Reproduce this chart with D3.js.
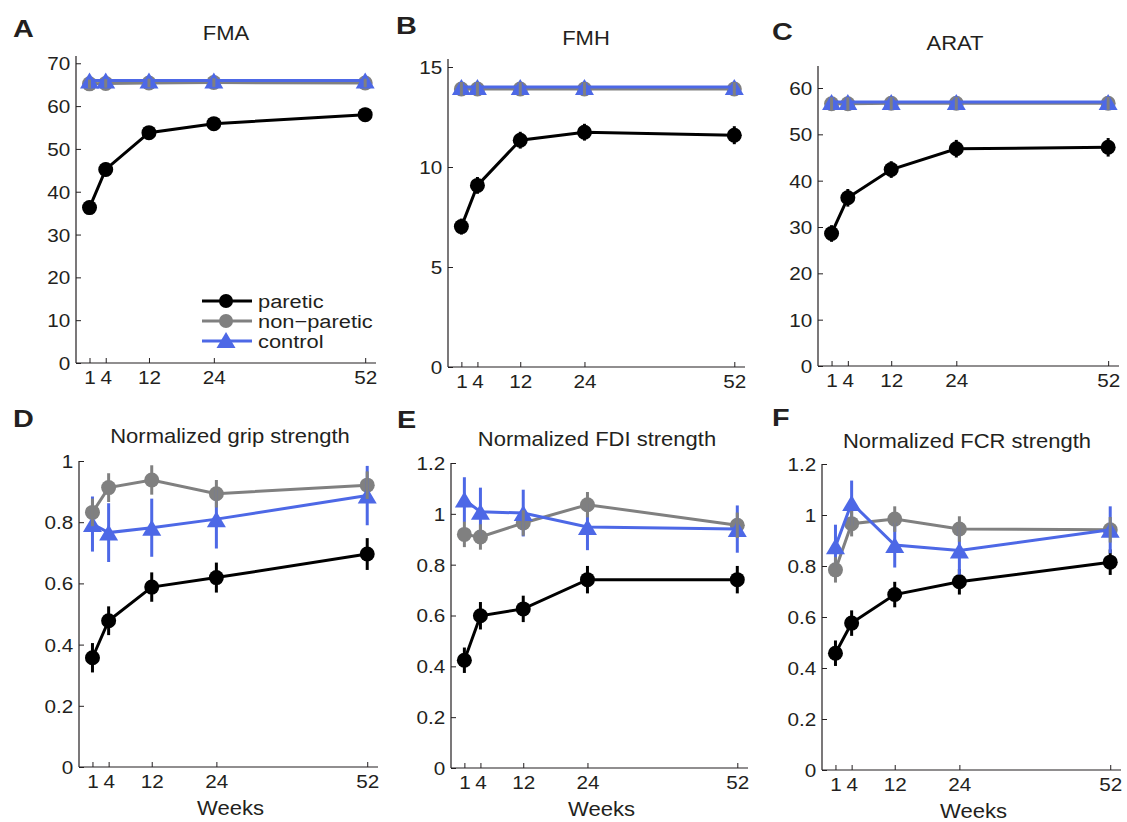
<!DOCTYPE html>
<html>
<head>
<meta charset="utf-8">
<script src="https://cdn.jsdelivr.net/npm/d3@7"></script>
<style>
  body { margin: 0; background: #fff; }
  text { font-family: "Liberation Sans", Arial, Helvetica, sans-serif; fill: #231f20; }
</style>
</head>
<body>
<svg id="fig" width="1127" height="822"></svg>
<script>
// weeks after stroke
const weeks = [1, 4, 12, 24, 52];
const weekTicks = [1, 4, 12, 24, 52];

// A - FMA
const fmaParetic = [36.3, 45.2, 53.8, 55.9, 58.0];
const fmaPareticErr = [1.6, 1.6, 1.5, 1.5, 1.6];
const fmaNonParetic = [65.2, 65.3, 65.4, 65.5, 65.4];
const fmaNonPareticErr = [1.0, 1.0, 1.0, 1.0, 1.0];
const fmaControl = [66, 66, 66, 66, 66];
const fmaTicks = [0, 10, 20, 30, 40, 50, 60, 70];

// B - FMH
const fmhParetic = [7.02, 9.08, 11.34, 11.74, 11.59];
const fmhPareticErr = [0.4, 0.42, 0.42, 0.42, 0.45];
const fmhNonParetic = [13.9, 13.9, 13.9, 13.9, 13.9];
const fmhNonPareticErr = [0.35, 0.35, 0.35, 0.35, 0.35];
const fmhControl = [14, 14, 14, 14, 14];
const fmhTicks = [0, 5, 10, 15];

// C - ARAT
const aratParetic = [28.6, 36.3, 42.4, 46.9, 47.2];
const aratPareticErr = [1.8, 1.9, 1.8, 1.9, 2.0];
const aratNonParetic = [56.6, 56.6, 56.7, 56.7, 56.7];
const aratNonPareticErr = [1.4, 1.4, 1.4, 1.4, 1.4];
const aratControl = [57, 57, 57, 57, 57];
const aratTicks = [0, 10, 20, 30, 40, 50, 60];

// D - grip
const gripParetic = [0.357, 0.478, 0.588, 0.619, 0.696];
const gripPareticErr = [0.048, 0.047, 0.048, 0.049, 0.052];
const gripNonParetic = [0.832, 0.913, 0.938, 0.893, 0.921];
const gripNonPareticErr = [0.045, 0.047, 0.048, 0.045, 0.045];
const gripControl = [0.794, 0.766, 0.782, 0.810, 0.887];
const gripControlErr = [0.09, 0.096, 0.095, 0.096, 0.097];
const gripTicks = [0, 0.2, 0.4, 0.6, 0.8, 1];

// E - FDI
const fdiParetic = [0.424, 0.599, 0.626, 0.741, 0.741];
const fdiPareticErr = [0.05, 0.054, 0.052, 0.054, 0.054];
const fdiNonParetic = [0.919, 0.909, 0.964, 1.036, 0.955];
const fdiNonPareticErr = [0.05, 0.05, 0.05, 0.05, 0.05];
const fdiControl = [1.056, 1.008, 1.003, 0.948, 0.940];
const fdiControlErr = [0.088, 0.095, 0.092, 0.091, 0.093];
const strengthTicks = [0, 0.2, 0.4, 0.6, 0.8, 1, 1.2];

// F - FCR
const fcrParetic = [0.458, 0.576, 0.688, 0.738, 0.815];
const fcrPareticErr = [0.05, 0.05, 0.05, 0.05, 0.05];
const fcrNonParetic = [0.785, 0.966, 0.984, 0.945, 0.942];
const fcrNonPareticErr = [0.05, 0.05, 0.05, 0.05, 0.05];
const fcrControl = [0.877, 1.047, 0.882, 0.861, 0.942];
const fcrControlErr = [0.085, 0.088, 0.088, 0.095, 0.092];

const seriesNames = ['paretic', 'non\u2212paretic', 'control'];
const colors = { paretic: '#000000', nonParetic: '#808080', control: '#4d68e6' };

const panels = [
  { letter: 'A', title: 'FMA', paretic: fmaParetic, pErr: fmaPareticErr, nonParetic: fmaNonParetic, nErr: fmaNonPareticErr, control: fmaControl, cErr: null, ticks: fmaTicks, ymax: 71.7,
    box: { l: 76, r: 376, t: 56, b: 363 }, titleX: 226, titleY: 40, letterX: 13, letterY: 37, legend: true, weeks: false },
  { letter: 'B', title: 'FMH', paretic: fmhParetic, pErr: fmhPareticErr, nonParetic: fmhNonParetic, nErr: fmhNonPareticErr, control: fmhControl, cErr: null, ticks: fmhTicks, ymax: 15.4,
    box: { l: 448, r: 745, t: 59, b: 367 }, titleX: 586, titleY: 45, letterX: 396, letterY: 34, legend: false, weeks: false },
  { letter: 'C', title: 'ARAT', paretic: aratParetic, pErr: aratPareticErr, nonParetic: aratNonParetic, nErr: aratNonPareticErr, control: aratControl, cErr: null, ticks: aratTicks, ymax: 64.75,
    box: { l: 818, r: 1119, t: 66, b: 366 }, titleX: 955, titleY: 50, letterX: 772, letterY: 40, legend: false, weeks: false },
  { letter: 'D', title: 'Normalized grip strength', paretic: gripParetic, pErr: gripPareticErr, nonParetic: gripNonParetic, nErr: gripNonPareticErr, control: gripControl, cErr: gripControlErr, ticks: gripTicks, ymax: 1,
    box: { l: 79, r: 378, t: 461, b: 767 }, titleX: 230, titleY: 443, letterX: 13, letterY: 427, legend: false, weeks: true },
  { letter: 'E', title: 'Normalized FDI strength', paretic: fdiParetic, pErr: fdiPareticErr, nonParetic: fdiNonParetic, nErr: fdiNonPareticErr, control: fdiControl, cErr: fdiControlErr, ticks: strengthTicks, ymax: 1.2,
    box: { l: 451, r: 748, t: 463, b: 768 }, titleX: 597, titleY: 446, letterX: 397, letterY: 428, legend: false, weeks: true },
  { letter: 'F', title: 'Normalized FCR strength', paretic: fcrParetic, pErr: fcrPareticErr, nonParetic: fcrNonParetic, nErr: fcrNonPareticErr, control: fcrControl, cErr: fcrControlErr, ticks: strengthTicks, ymax: 1.2,
    box: { l: 822, r: 1121, t: 464, b: 770 }, titleX: 967, titleY: 448, letterX: 772, letterY: 426, legend: false, weeks: true }
];

const svg = d3.select('#fig');
const R = 7.5;          // circle radius
const TW = 19, TH = 16; // triangle width/height
const SX = 1.15;        // the figure's lettering is a bit wider than Liberation Sans

const trianglePath = (cx, cy) => `M${cx - TW / 2},${cy + TH / 2}L${cx + TW / 2},${cy + TH / 2}L${cx},${cy - TH / 2}Z`;
const fmt = d => String(+d.toFixed(2));

// text placed at (x,y), stretched horizontally
function label(parent, x, y, str, size, anchor, sx) {
  return parent.append('text')
    .attr('transform', `translate(${x},${y}) scale(${sx || SX},1)`)
    .attr('text-anchor', anchor || 'start')
    .attr('font-size', size).text(str);
}

function drawSeries(g, x, y, vals, errs, color, marker) {
  const pts = weeks.map((w, i) => ({ w, v: vals[i], e: errs ? errs[i] : 0 }));
  return {
    err() {
      if (!errs) return;
      g.append('g').selectAll('line').data(pts).enter().append('line')
        .attr('x1', d => x(d.w)).attr('x2', d => x(d.w))
        .attr('y1', d => y(d.v - d.e)).attr('y2', d => y(d.v + d.e))
        .attr('stroke', color).attr('stroke-width', 3);
    },
    line() {
      g.append('path').datum(pts)
        .attr('d', d3.line().x(d => x(d.w)).y(d => y(d.v)))
        .attr('fill', 'none').attr('stroke', color).attr('stroke-width', 3);
    },
    markers() {
      const mg = g.append('g');
      if (marker === 'circle') {
        mg.selectAll('circle').data(pts).enter().append('circle')
          .attr('cx', d => x(d.w)).attr('cy', d => y(d.v)).attr('r', R).attr('fill', color);
      } else {
        mg.selectAll('path').data(pts).enter().append('path')
          .attr('d', d => trianglePath(x(d.w), y(d.v))).attr('fill', color);
      }
    }
  };
}

panels.forEach(p => {
  const { l, r, t, b } = p.box;
  const x = d3.scaleLinear().domain([-1.5, 54]).range([l, r]);
  const y = d3.scaleLinear().domain([0, p.ymax]).range([b, t]);
  const g = svg.append('g');

  // axes, ticks pointing inward like matlab
  const yAxis = d3.axisLeft(y).tickValues(p.ticks).tickFormat(fmt).tickSizeInner(-5).tickSizeOuter(0).tickPadding(5);
  const xAxis = d3.axisBottom(x).tickValues(weekTicks).tickFormat(fmt).tickSizeInner(-5).tickSizeOuter(0).tickPadding(8);
  const ya = g.append('g').attr('transform', `translate(${l},0)`).call(yAxis);
  const xa = g.append('g').attr('transform', `translate(0,${b})`).call(xAxis);
  [ya, xa].forEach(a => {
    a.select('.domain').attr('stroke', '#231f20').attr('stroke-width', 1.2);
    a.selectAll('.tick line').attr('stroke', '#231f20').attr('stroke-width', 1);
    a.selectAll('.tick text').attr('font-size', 18).attr('fill', '#231f20')
      .attr('transform', `scale(${SX},1)`)
      .style('font-family', '"Liberation Sans", Arial, sans-serif');
  });
  ya.selectAll('.tick text').attr('dy', '0.36em');
  xa.selectAll('.tick text').attr('dy', '0.71em');
  xa.select('.domain').attr('d', `M${l},0H${r}`);
  ya.select('.domain').attr('d', `M0,${t}V${b}`);

  // series
  const blk = drawSeries(g, x, y, p.paretic, p.pErr, colors.paretic, 'circle');
  const gry = drawSeries(g, x, y, p.nonParetic, p.nErr, colors.nonParetic, 'circle');
  const blu = drawSeries(g, x, y, p.control, p.cErr, colors.control, 'triangle');
  blk.err(); blk.line(); blk.markers();
  gry.line(); gry.markers();
  blu.err(); blu.line(); blu.markers();
  gry.err();

  // titles
  label(svg, p.titleX, p.titleY, p.title, 20, 'middle', 1.1);
  label(svg, p.letterX, p.letterY, p.letter, 24, 'start', 1.2).attr('font-weight', 'bold');
  if (p.weeks) label(svg, (l + r) / 2 + 2, b + 48, 'Weeks', 21, 'middle', 1.05);

  if (p.legend) {
    const lg = svg.append('g').attr('transform', `translate(${l + 126},${t + 245})`);
    const legendColors = [colors.paretic, colors.nonParetic, colors.control];
    const legendMarkers = ['circle', 'circle', 'triangle'];
    seriesNames.forEach((name, i) => {
      const row = lg.append('g').attr('transform', `translate(0,${i * 20})`);
      row.append('line').attr('x1', 0).attr('x2', 50).attr('y1', 0).attr('y2', 0)
        .attr('stroke', legendColors[i]).attr('stroke-width', 3);
      if (legendMarkers[i] === 'circle') {
        row.append('circle').attr('cx', 24).attr('cy', 0).attr('r', 7).attr('fill', legendColors[i]);
      } else {
        row.append('path').attr('d', trianglePath(24, -1)).attr('fill', legendColors[i]);
      }
      label(row, 56, 6.5, name, 19, 'start', 1.15);
    });
  }
});
</script>
</body>
</html>
